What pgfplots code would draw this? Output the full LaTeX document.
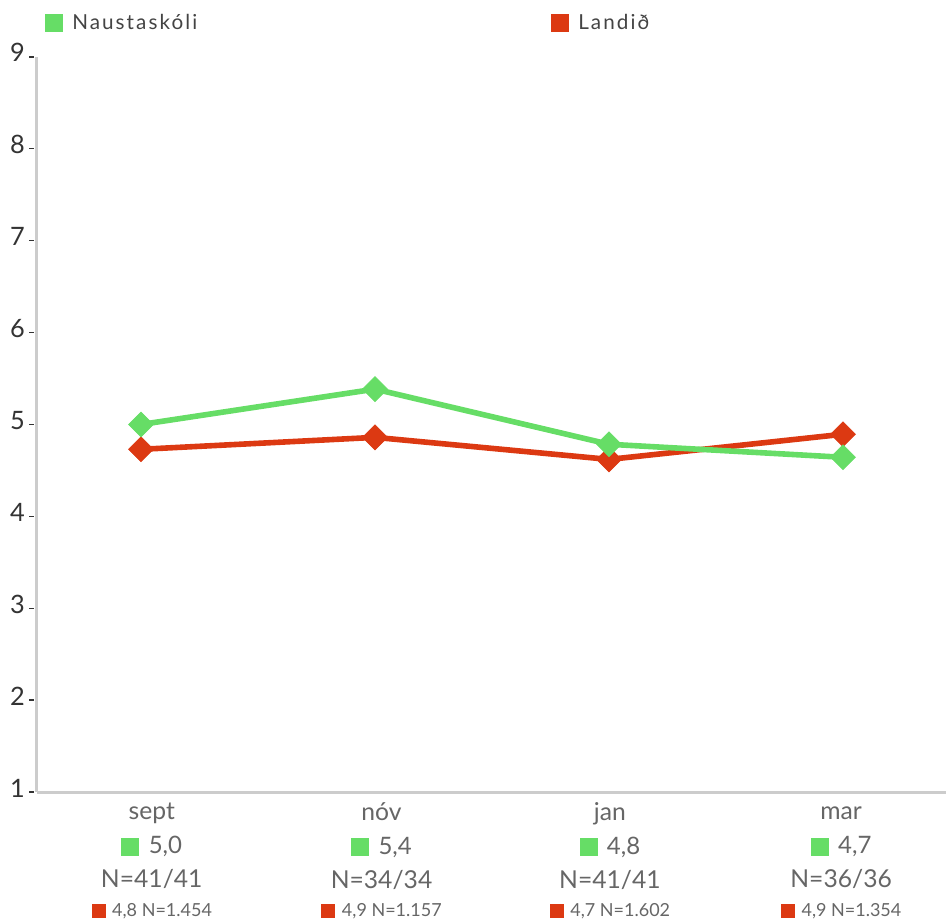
\documentclass[border=0pt]{standalone}
\usepackage{pgfplots}
\pgfplotsset{compat=1.18}
\usepackage{fontspec}
\setmainfont{Lato}
\newfontfamily\lsp{Lato}[LetterSpace=10]
\definecolor{ng}{HTML}{66DD66}
\definecolor{nr}{HTML}{DC3912}
\definecolor{axgray}{HTML}{CCCCCC}
\definecolor{tx}{HTML}{444444}
\definecolor{tl}{HTML}{666666}
\definecolor{tk}{HTML}{333333}
\newcommand{\sqg}{\textcolor{ng}{\rule[-1.3pt]{13.5pt}{13.5pt}}\hspace{7pt}}
\newcommand{\sqr}{\textcolor{nr}{\rule[-1pt]{10.5pt}{10.5pt}}\hspace{5pt}}
\newcommand{\sm}{\fontsize{13.5}{13.5}\selectfont}
\newcommand{\md}{\fontsize{18}{18}\selectfont}
\newcommand{\fl}{\vphantom{N}}
\newcommand{\dsh}{\hspace{3.3pt}\rule[3.3pt]{4pt}{0.95pt}}
\begin{document}
\begin{tikzpicture}
\useasboundingbox (-27.75pt,-96.75pt) rectangle (681.75pt,594pt);
\begin{axis}[
  scale only axis,
  width=681.75pt, height=551.25pt,
  xmin=-0.4444, xmax=3.4402,
  ymin=1, ymax=9,
  axis x line=bottom, axis y line=left,
  axis line style={-, draw=axgray, line width=2.25pt},
  major tick length=0pt,
  ytick={1,...,9},
  yticklabels={1\dsh,2\dsh,3\dsh,4\dsh,5\dsh,6\dsh,7\dsh,8\dsh,9\dsh},
  yticklabel style={anchor=base east, inner sep=0pt, xshift=-1.7pt, yshift=-3.75pt, font=\fontsize{19}{22}\selectfont, text=tk},
  xtick={0.046,1.028,2.004,2.992},
  xticklabels={
    {\fl sept\\[-1.5pt]{\md\sqg 5,0}\\[-1.5pt]N=41/41\\[-5.5pt]{\sm\sqr 4,8 N=1.454}},
    {\fl nóv\\[-1.5pt]{\md\sqg 5,4}\\[-1.5pt]N=34/34\\[-5.5pt]{\sm\sqr 4,9 N=1.157}},
    {\fl jan\\[-1.5pt]{\md\sqg 4,8}\\[-1.5pt]N=41/41\\[-5.5pt]{\sm\sqr 4,7 N=1.602}},
    {\fl mar\\[-1.5pt]{\md\sqg 4,7}\\[-1.5pt]N=36/36\\[-5.5pt]{\sm\sqr 4,9 N=1.354}}},
  xticklabel style={anchor=north, inner sep=0pt, yshift=-7.5pt, align=center, font=\fontsize{18.5}{27}\selectfont, text=tl},
  clip=false,
]
\addplot[nr, line width=4.2pt, mark=square*, mark size=6.6pt, mark options={rotate=45, line width=0.5pt, fill=nr}]
  coordinates {(0,4.73) (1,4.86) (2,4.62) (3,4.894)};
\addplot[ng, line width=4.2pt, mark=square*, mark size=6.6pt, mark options={rotate=45, line width=0.5pt, fill=ng}]
  coordinates {(0,5.00) (1,5.385) (2,4.785) (3,4.643)};
\end{axis}
\node[anchor=base west, inner sep=0pt, font=\lsp\fontsize{15.5}{18}\selectfont, text=tx] at (6pt,572pt)
  {\textcolor{ng}{\rule[-2.25pt]{13.5pt}{13.5pt}}\hspace{6.75pt}Naustaskóli};
\node[anchor=base west, inner sep=0pt, font=\lsp\fontsize{15.5}{18}\selectfont, text=tx] at (385.5pt,572pt)
  {\textcolor{nr}{\rule[-2.25pt]{13.5pt}{13.5pt}}\hspace{6.75pt}Landið};
\end{tikzpicture}
\end{document}
